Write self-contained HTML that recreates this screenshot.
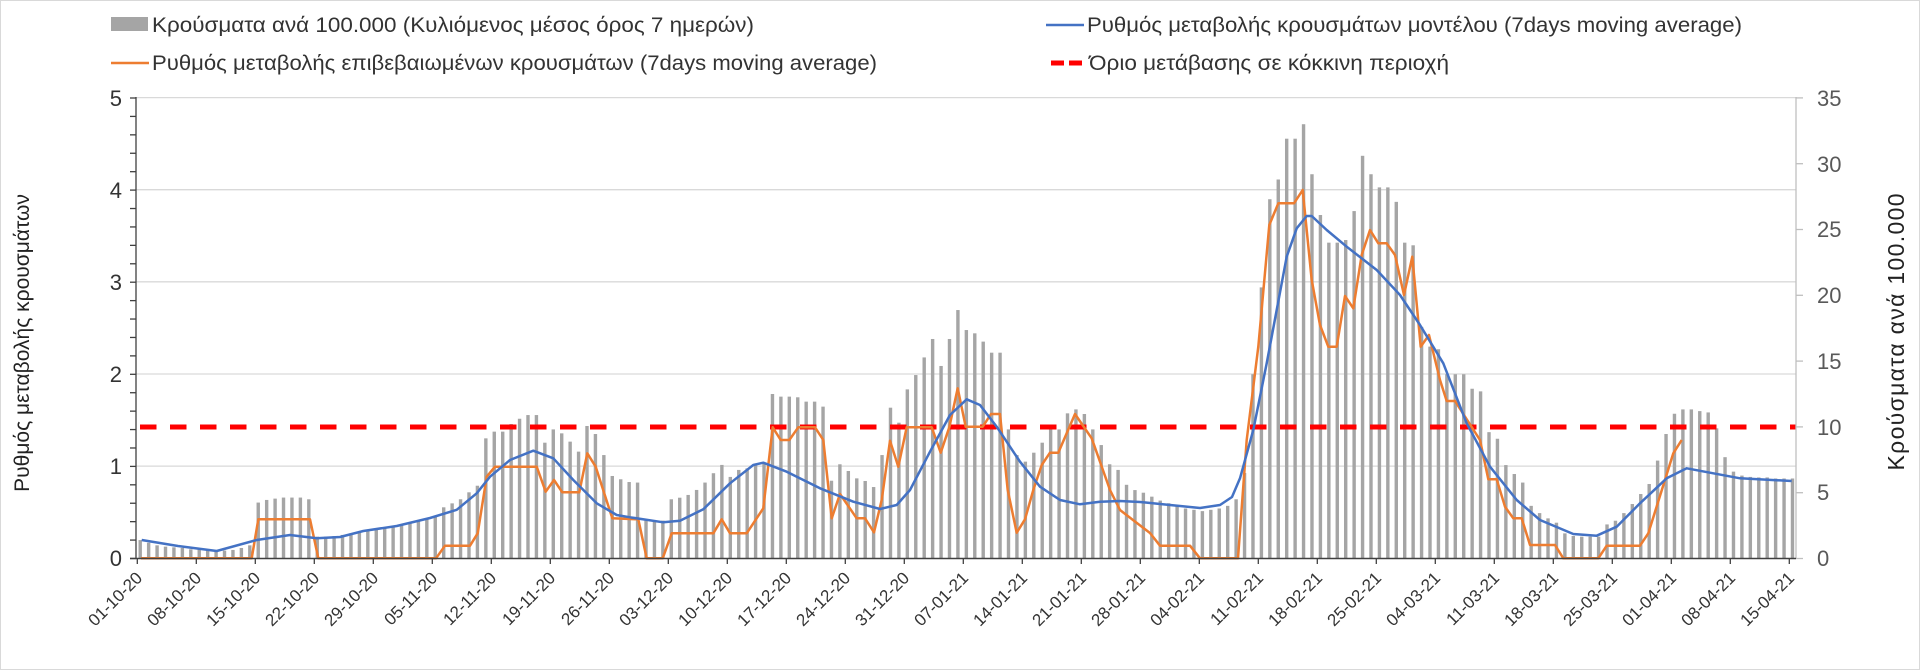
<!DOCTYPE html>
<html><head><meta charset="utf-8"><style>
html,body{margin:0;padding:0;background:#fff;}
svg{display:block;font-family:"Liberation Sans",sans-serif;}
</style></head><body>
<svg id="c" xmlns="http://www.w3.org/2000/svg" width="1920" height="670" viewBox="0 0 1920 670">
<rect x="0.5" y="0.5" width="1919" height="669" fill="#fff" stroke="#d9d9d9"/>
<g stroke="#d9d9d9" stroke-width="1.3">
<line x1="136" y1="97.6" x2="1796" y2="97.6"/>
<line x1="136" y1="189.7" x2="1796" y2="189.7"/>
<line x1="136" y1="281.8" x2="1796" y2="281.8"/>
<line x1="136" y1="374" x2="1796" y2="374"/>
<line x1="136" y1="466.1" x2="1796" y2="466.1"/>
</g>
<g id="bars" fill="#a5a5a5"></g>
<line x1="140" y1="427" x2="1796" y2="427" stroke="#ff0000" stroke-width="5" stroke-dasharray="16.5,13.5"/>
<polyline fill="none" stroke="#ed7d31" stroke-width="2.5" stroke-linejoin="round" points="141,558.3 251.7,558.3 258.3,519.3 310,519.3 318.3,558.3 436,558.3 445,545.7 470,545.7 477.7,533.3 486.7,476.7 495,466.7 536.7,466.7 545.7,491.7 554,480 562.3,492.3 579.3,492.3 587.3,453.3 595.7,466.7 612.3,518.3 638.3,519.3 646.7,558.3 662.7,558.3 671.7,533.3 713.3,533.3 721.7,519.3 730,533.3 746.7,533.3 763.3,508.3 772.7,427.3 780.7,440 789.3,440 798.3,427.3 815,427.3 823.3,440 831.7,518.3 840,494 856.7,518.3 865,518.3 874,532.3 881.7,500 890,440.7 898.3,466.7 906.7,427.3 931.7,427.3 940.7,452.7 949.3,427.3 957.7,388.3 965.7,426.7 982.7,426.7 991,414 1000,414 1007.7,490 1016.7,532.7 1025,519.3 1033.3,490 1041.7,465 1050,452.7 1058.3,452.7 1075,414 1091.7,438.3 1110,490 1120,510 1133,520 1150,533 1160,545.7 1190,545.7 1200,558.3 1238,558.3 1246.7,440 1258.3,346.7 1269.3,225 1278.3,203.3 1294,203.3 1302.7,190 1311.7,280 1320,325 1328.3,346.7 1336.7,346.7 1345,296 1353.3,308.3 1361.7,255 1370,230 1378.3,243.3 1386.7,243.3 1395,255 1404,295 1412.3,256.7 1420.7,346.7 1429,335 1440,380 1446.7,401 1455,401 1480,440 1488.3,479.3 1496.7,479.3 1505,506.7 1513.3,518.3 1521.7,518.3 1530,545 1555,545 1563.3,558.3 1598.3,558.3 1606.7,545.7 1640,545.7 1648.3,533.3 1673.3,453.3 1681.7,440"/>
<polyline fill="none" stroke="#4472c4" stroke-width="2.5" stroke-linejoin="round" points="141.7,540 178,546 216.7,551 256.7,540 290,535 316.7,538.3 340,537 363.3,531 396.7,526 430,518 456.7,509.8 476.7,493.3 490,476.7 510,460 533.3,450.7 553.3,458.3 573.3,480 596.7,503.3 616.7,515 630,517.3 663.3,522.3 680,520.7 703.3,509.3 730,483.3 753.3,465 763.3,462.7 786.7,471.7 820,488.3 853.3,501.7 880,509 896.7,505 910,490 930,451.7 950,415 966.7,399.3 980,405 996.7,426.7 1020,461.7 1040,486.7 1060,500 1080,504.3 1100,501.7 1120,501 1140,502 1170,505 1200,508 1220,505 1232,497 1240,478.3 1253.3,430 1266.7,363.3 1286.7,256.7 1296.7,228.3 1306.7,216 1311.7,216 1326.7,230 1346.7,246.7 1376.7,270 1400,295 1420,325 1443.3,363.3 1466.7,423.3 1490,466.7 1516.7,500 1540,520 1573.3,534 1596.7,535.7 1616.7,526.7 1640,503.3 1666.7,478.3 1686.7,468.3 1713.3,473.3 1740,478.3 1791.7,481"/>
<!-- axes -->
<line x1="136" y1="97" x2="136" y2="559" stroke="#404040" stroke-width="1.3"/>
<line x1="1796" y1="97" x2="1796" y2="559" stroke="#bfbfbf" stroke-width="1.3"/>
<line x1="130" y1="558.5" x2="1796" y2="558.5" stroke="#404040" stroke-width="1.5"/>
<g id="ticks" stroke="#404040" stroke-width="1.3"></g>
<g id="rticks" stroke="#bfbfbf" stroke-width="1.3"></g>
<g font-size="22" fill="#333" text-anchor="end">
<text x="122" y="106">5</text><text x="122" y="198">4</text><text x="122" y="290">3</text>
<text x="122" y="382">2</text><text x="122" y="474">1</text><text x="122" y="566">0</text>
</g>
<g font-size="22" fill="#595959">
<text x="1817" y="106">35</text><text x="1817" y="172">30</text><text x="1817" y="237">25</text>
<text x="1817" y="303">20</text><text x="1817" y="369">15</text><text x="1817" y="435">10</text>
<text x="1817" y="500">5</text><text x="1817" y="566">0</text>
</g>
<g id="dates" font-size="17" fill="#333" text-anchor="end"></g>
<text transform="translate(29,343) rotate(-90)" text-anchor="middle" font-size="21" fill="#222">Ρυθμός μεταβολής κρουσμάτων</text>
<text transform="translate(1904,332) rotate(-90)" text-anchor="middle" font-size="23" fill="#222" textLength="277">Κρούσματα ανά 100.000</text>
<!-- legend -->
<rect x="111" y="17" width="37" height="14" fill="#a5a5a5"/>
<text x="152" y="32" font-size="21" fill="#333" textLength="602" lengthAdjust="spacingAndGlyphs">Κρούσματα ανά 100.000 (Κυλιόμενος μέσος όρος 7 ημερών)</text>
<line x1="111" y1="63" x2="149" y2="63" stroke="#ed7d31" stroke-width="2.5"/>
<text x="152" y="70" font-size="21" fill="#333" textLength="725" lengthAdjust="spacingAndGlyphs">Ρυθμός μεταβολής επιβεβαιωμένων κρουσμάτων (7days moving average)</text>
<line x1="1046" y1="25" x2="1084" y2="25" stroke="#4472c4" stroke-width="2.5"/>
<text x="1087" y="32" font-size="21" fill="#333" textLength="655" lengthAdjust="spacingAndGlyphs">Ρυθμός μεταβολής κρουσμάτων μοντέλου (7days moving average)</text>
<line x1="1051" y1="63" x2="1082" y2="63" stroke="#ff0000" stroke-width="5" stroke-dasharray="13,5"/>
<text x="1089" y="70" font-size="21" fill="#333" textLength="360" lengthAdjust="spacingAndGlyphs">Όριο μετάβασης σε κόκκινη περιοχή</text>
</svg>
<script>
var v=[1.4,1.2,1.0,0.9,0.85,0.8,0.7,0.7,0.65,0.6,0.6,0.65,0.8,1.0,
4.25,4.45,4.55,4.63,4.63,4.63,4.5,
1.66,1.66,1.71,1.79,1.91,2.04,2.11,2.21,2.37,2.47,2.62,2.75,2.88,3.05,3.23,
3.89,4.19,4.5,5.03,5.53,9.13,9.64,9.64,10.22,10.62,10.9,10.9,8.8,9.81,9.51,8.88,8.12,10.07,9.46,7.86,6.27,6.02,5.81,5.77,
2.88,2.88,2.88,4.5,4.62,4.83,5.21,5.77,6.48,7.11,6.2,6.73,6.85,7.11,7.23,
12.5,12.3,12.3,12.25,11.92,11.92,11.54,5.91,7.16,6.65,6.09,5.89,5.43,7.86,11.46,10.32,12.85,13.94,15.28,16.68,14.63,16.68,18.88,17.36,17.11,16.48,15.64,15.64,
9.81,7.86,7.36,8.04,8.8,9.86,9.81,11.03,11.33,10.98,9.81,8.62,7.16,6.73,
5.6,5.2,5.0,4.7,4.4,4.2,4.0,3.8,3.7,3.6,3.7,3.8,4.0,4.5,6.5,
14.0,20.6,27.3,28.8,31.9,31.9,33.0,29.2,26.1,24.0,24.0,24.2,26.4,30.6,29.2,28.2,28.2,27.1,24.0,23.8,17.6,16.1,15.9,14.0,14.0,14.0,12.9,12.7,9.6,
9.1,7.1,6.42,5.77,4.0,3.45,3.05,2.72,1.91,1.71,1.66,1.66,1.66,2.59,2.87,3.45,4.14,4.9,5.66,7.44,9.46,11.0,11.33,11.33,11.2,11.1,9.89,7.7,6.6,6.3,6.2,6.16,6.16,6.08,6.08,6.08];
var NS="http://www.w3.org/2000/svg";
function el(p,t,a,txt){var e=document.createElementNS(NS,t);for(var k in a)e.setAttribute(k,a[k]);if(txt)e.textContent=txt;p.appendChild(e);return e;}
var b=document.getElementById("bars");
for(var d=0;d<v.length;d++){var xc=136+8.43*(d+0.5),h=v[d]*13.16;el(b,"rect",{x:(xc-1.7).toFixed(2),y:(558.5-h).toFixed(2),width:3.4,height:h.toFixed(2)});}
var t=document.getElementById("ticks");
for(var i=0;i<=25;i++){var y=558.5-i*18.42;el(t,"line",{x1:130,y1:y,x2:136,y2:y});}
for(var w=0;w<=28;w++){var x=137.3+w*59;el(t,"line",{x1:x,y1:558.5,x2:x,y2:564});}
var rt=document.getElementById("rticks");
for(var i=0;i<=7;i++){var y=558.5-i*65.8;el(rt,"line",{x1:1796,y1:y,x2:1803,y2:y});}
var g=document.getElementById("dates");
var start=new Date(2020,9,1);
for(var w=0;w<=28;w++){var dt=new Date(start.getTime()+w*7*86400000+3600000*12);
var s=("0"+dt.getDate()).slice(-2)+"-"+("0"+(dt.getMonth()+1)).slice(-2)+"-"+String(dt.getFullYear()).slice(-2);
var x=137.3+w*59+6;el(g,"text",{transform:"translate("+x+",579) rotate(-45)"},s);}
</script>
</body></html>
